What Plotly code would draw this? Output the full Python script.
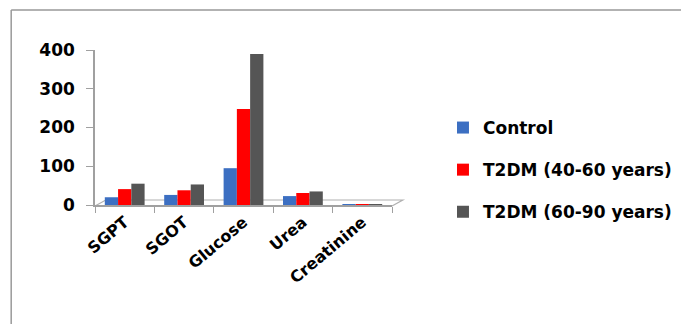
import plotly.graph_objects as go

categories = ["SGPT", "SGOT", "Glucose", "Urea", "Creatinine"]
control = [20, 26, 95, 23, 1.2]
t2dm_40_60 = [41, 38, 248, 31, 1.5]
t2dm_60_90 = [55, 53, 390, 35, 1.8]
y_ticks = [0, 100, 200, 300, 400]

series = [
    ("Control", control, "#3c6fc2"),
    ("T2DM (40-60 years)", t2dm_40_60, "#ff0000"),
    ("T2DM (60-90 years)", t2dm_60_90, "#555555"),
]

font_family = "DejaVu Sans, sans-serif"

fig = go.Figure()
for i, (name, vals, col) in enumerate(series):
    fig.add_trace(go.Bar(
        x=categories, y=vals, name=name,
        marker=dict(color=col, line=dict(width=0)),
        legendgroup=f"g{i}",
    ))

# page body adds an 8px offset; figure sized accordingly
OFF = 8
W, H = 689 - OFF, 324 - OFF
ml, mr, mt, mb = 95 - OFF, 291, 50 - OFF, 119
PW, PH = W - ml - mr, H - mt - mb


def px(xpix):
    return (xpix - OFF - ml) / PW


def py(ypix):
    return (H - mb - (ypix - OFF)) / PH


fig.update_layout(
    width=W, height=H,
    margin=dict(l=ml, r=mr, t=mt, b=mb, pad=0),
    paper_bgcolor="white", plot_bgcolor="white",
    barmode="group", bargap=0.33, bargroupgap=0,
    font=dict(family=font_family, color="black"),
    showlegend=True,
    legend=dict(
        x=px(450), xanchor="left", y=py(170), yanchor="middle",
        font=dict(size=17, family=font_family, color="black", weight="bold"),
        tracegroupgap=17, itemwidth=30,
        bgcolor="rgba(0,0,0,0)",
    ),
    xaxis=dict(
        type="category", tickangle=-40, tickson="boundaries",
        ticks="outside", ticklen=6, tickcolor="#a0a0a0",
        showline=True, linecolor="#a0a0a0", linewidth=1.5,
        tickfont=dict(size=16, family=font_family, color="black", weight="bold"),
        showgrid=False,
    ),
    yaxis=dict(
        range=[0, 400], tickvals=y_ticks,
        ticks="outside", ticklen=7, tickcolor="#a0a0a0",
        showline=True, linecolor="#a0a0a0", linewidth=1.5,
        tickfont=dict(size=17, family=font_family, color="black", weight="bold"),
        showgrid=False, zeroline=False,
        ticklabelstandoff=8,
    ),
    shapes=[
        # outer chart border (left and top only, as visible)
        dict(type="line", xref="paper", yref="paper",
             x0=px(9.5), x1=px(9.5), y0=py(10), y1=py(340),
             line=dict(color="#999999", width=1.5)),
        dict(type="line", xref="paper", yref="paper",
             x0=px(9.5), x1=px(700), y0=py(10), y1=py(10),
             line=dict(color="#999999", width=1.5)),
        # floor back edge
        dict(type="path", xref="paper", yref="paper",
             path=f"M {px(95)},{py(206)} L {px(106)},{py(200)} L {px(409)},{py(200)} L {px(398)},{py(206)}",
             line=dict(color="#b0b0b0", width=1.2), layer="below"),
    ],
)

fig.write_html("out.html")
